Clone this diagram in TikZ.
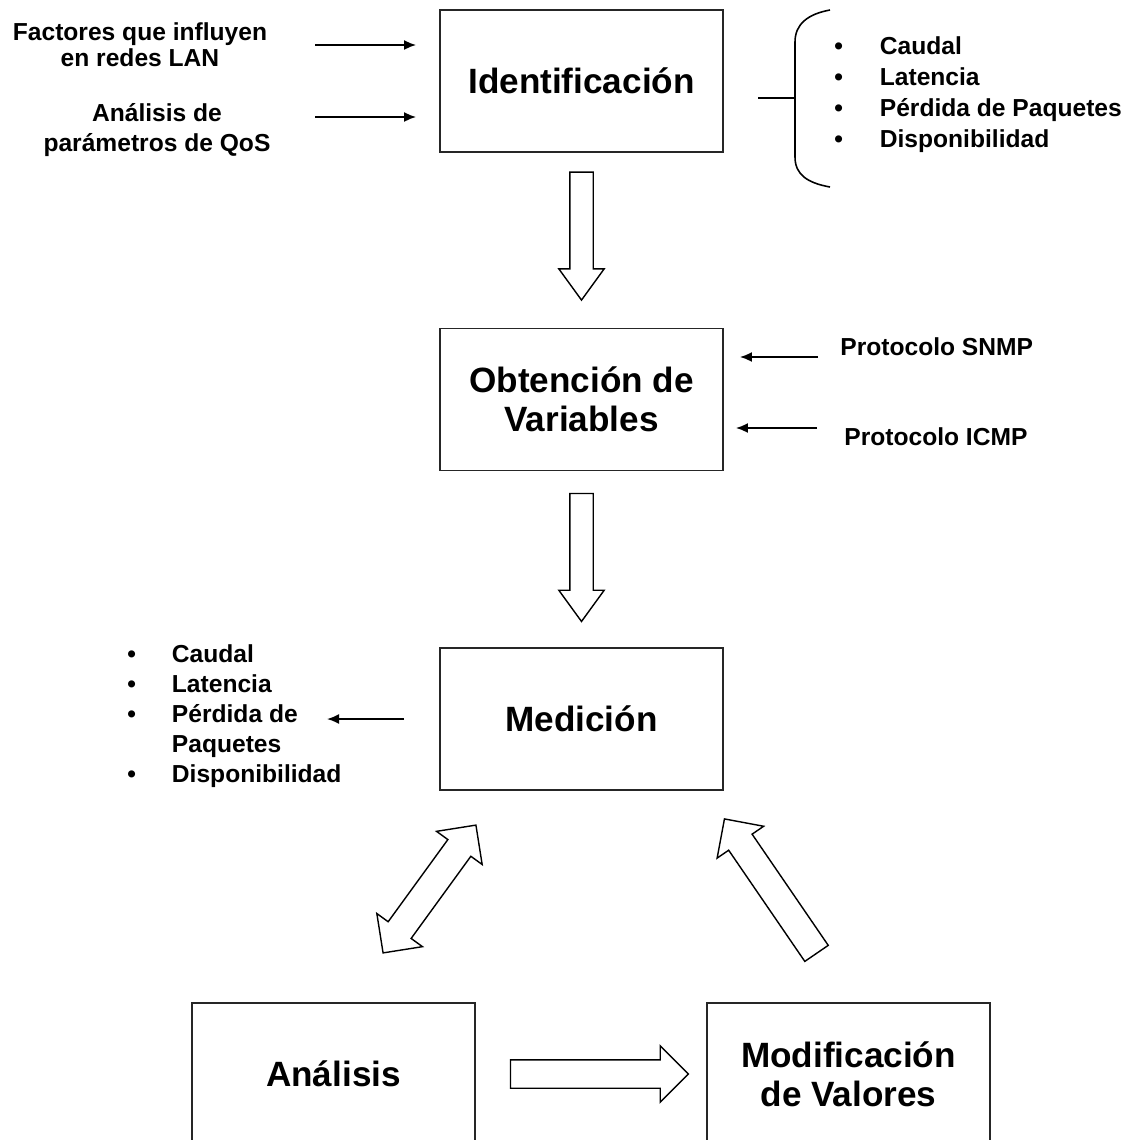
\documentclass[tikz,border=0pt]{standalone}
\usepackage{fontspec}
\setmainfont{Liberation Sans}
\usetikzlibrary{shapes.arrows, positioning, calc, arrows.meta}

\tikzset{
  stagebox/.style={draw=black!85, line width=1.1pt, minimum width=5.66cm, minimum height=2.84cm, align=center, font=\fontsize{20}{22}\selectfont\bfseries},
  note/.style={align=center, inner sep=0pt, font=\fontsize{14}{15}\selectfont\bfseries},
  feed/.style={-{Latex[length=0.24cm, width=0.2cm]}, line width=1pt},
  bigarrow/.style={draw, fill=white, line width=0.8pt, single arrow, minimum width=0pt, inner xsep=0pt, inner ysep=0.27cm, single arrow head extend=0.28cm, single arrow tip angle=90},
  downarrow/.style={bigarrow, inner ysep=0.22cm, single arrow head extend=0.22cm, single arrow tip angle=72, minimum height=2.56cm, rotate=-90}
}

\begin{document}
\begin{tikzpicture}[x=0.02cm, y=-0.02cm]
			% Page frame
			\path[use as bounding box, clip] (0,0) rectangle (1129,1140);

			% Define stages
			\node[stagebox] (ident) at (581.5,81) {Identificación};
			\node[stagebox] (obt) at (581.5,399.5) {Obtención de\\Variables};
			\node[stagebox] (med) at (581.5,719) {Medición};
			\node[stagebox] (ana) at (333.5,1074) {Análisis};
			\node[stagebox] (mod) at (848.5,1074) {Modificación\\de Valores};

			% Inputs of the first stage
			\node[note] (factors) at (140,45) {Factores que influyen\\en redes LAN};
			\node[note, font=\fontsize{14}{17}\selectfont\bfseries] (qos) at (157,130) {Análisis de\\parámetros de QoS};
			\coordinate (factorsTail) at (315,45);
			\coordinate (qosTail) at (315,117);
			\draw[feed, shorten >=0.46cm] (factorsTail) -- (factorsTail -| ident.west);
			\draw[feed, shorten >=0.46cm] (qosTail) -- (qosTail -| ident.west);

			% Brace with the parameters
			\draw[line width=0.9pt] (830,10) .. controls (808,14) and (795,24) .. (795,42) -- (795,157) .. controls (795,175) and (808,183) .. (830,187);
			\draw[line width=0.9pt] (758,98) -- (795,98);
			\node[anchor=west, inner sep=0pt, font=\fontsize{14}{17.6}\selectfont\bfseries] (qoslist) at (834,94.5)
				{\begin{tabular}{@{}l@{\hspace{21pt}}l@{}}\textbullet & Caudal\\ \textbullet & Latencia\\ \textbullet & Pérdida de Paquetes\\ \textbullet & Disponibilidad\end{tabular}};

			% Protocols
			\node[note, anchor=west] (snmp) at (840,347) {Protocolo SNMP};
			\node[note, anchor=west] (icmp) at (844,437) {Protocolo ICMP};
			\coordinate (snmpTail) at (818,357);
			\coordinate (icmpTail) at (817,428);
			\draw[feed, shorten >=0.32cm] (snmpTail) -- (snmpTail -| obt.east);
			\draw[feed, shorten >=0.24cm] (icmpTail) -- (icmpTail -| obt.east);

			% Measured values
			\node[anchor=west, inner sep=0pt, font=\fontsize{14}{17}\selectfont\bfseries] (medlist) at (127,716.5)
				{\begin{tabular}{@{}l@{\hspace{20.5pt}}l@{}}\textbullet & Caudal\\ \textbullet & Latencia\\ \textbullet & Pérdida de\\ & Paquetes\\ \textbullet & Disponibilidad\end{tabular}};
			\coordinate (listHead) at (327,719);
			\draw[feed, shorten <=0.7cm] (med.west) -- (listHead);

			% Hollow arrows between stages
			\node[downarrow] (a1) at ($(ident.south)!0.43!(obt.north)$) {};
			\node[downarrow] (a2) at ($(obt.south)!0.444!(med.north)$) {};
			\node[bigarrow, minimum height=3.56cm] (a3) at ($(ana.east)!0.506!(mod.west)$) {};
			\node[draw, fill=white, line width=0.8pt, double arrow, minimum width=0pt, inner xsep=0pt, inner ysep=0.27cm,
				double arrow head extend=0.28cm, double arrow tip angle=90, minimum height=3.16cm, rotate=54] (a4) at (429.5,889) {};
			\node[bigarrow, minimum height=3.26cm, rotate=124.4] (a5) at (774.5,892) {};
		\end{tikzpicture}
\end{document}
